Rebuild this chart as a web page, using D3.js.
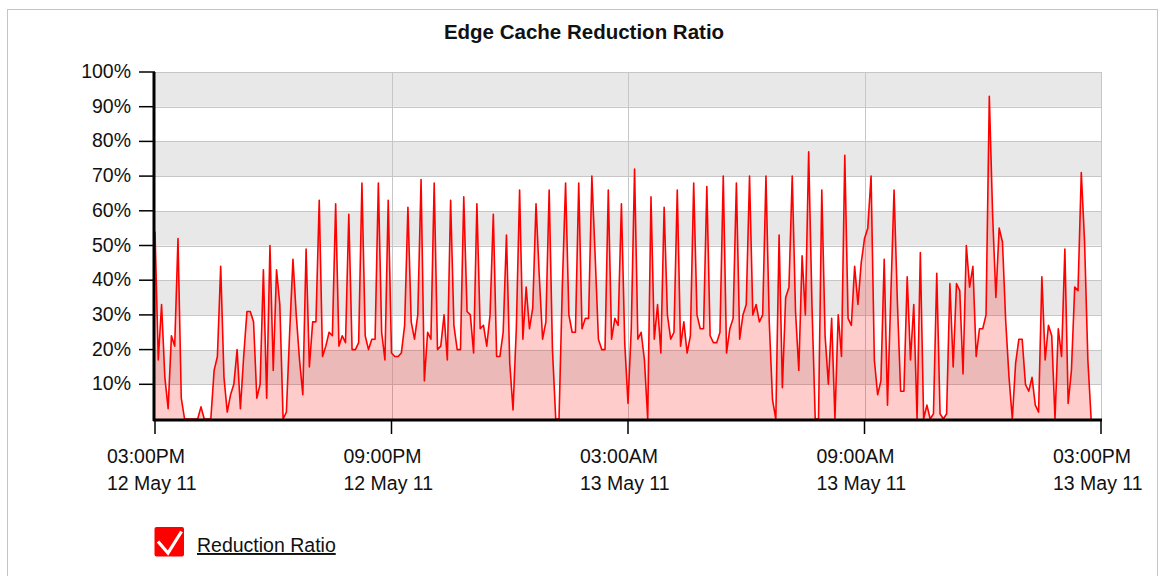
<!DOCTYPE html>
<html lang="en">
<head>
  <meta charset="UTF-8">
  <title>Edge Cache Reduction Ratio</title>
  <script src="https://d3js.org/d3.v7.min.js"></script>
  <style>
    body { margin: 0; background: #fff; }
    text { font-family: "Liberation Sans", Arial, sans-serif; fill: #111; }
  </style>
</head>
<body>
  <div id="chart"></div>

  <script>
    // samples every 5 minutes starting 12 May 11, 03:00PM
    const startTime = new Date(2011, 4, 12, 15, 0);
    const endTime = new Date(2011, 4, 13, 15, 0);
    const stepMinutes = 5;

    // reduction ratio (%)
    const ratio = [
      54, 17, 33, 12, 3, 24, 21, 52, 6, 0,
      0, 0, 0, 0, 3.5, 0, 0, 0, 14, 18,
      44, 12, 2, 7, 10, 20, 3, 18, 31, 31,
      28, 6, 10, 43, 6, 50, 14, 43, 33, 0,
      2, 25, 46, 30, 17, 7, 49, 15, 28, 28,
      63, 18, 21, 25, 24, 62, 21, 24, 22, 59,
      20, 20, 22, 68, 24, 20, 23, 23, 68, 25,
      17, 63, 19, 18, 18, 19, 27, 61, 28, 23,
      30, 69, 11, 25, 23, 68, 20, 21, 30, 17,
      63, 27, 20, 20, 64, 31, 30, 19, 62, 26,
      27, 21, 30, 59, 18, 18, 25, 53, 16, 2.6,
      26, 66, 23, 38, 26, 32, 62, 41, 23, 28,
      66, 20, 0, 0, 38, 68, 30, 25, 25, 68,
      26, 29, 29, 70, 47, 23, 20, 20, 66, 23,
      29, 27, 62, 22, 4.5, 26, 72, 23, 25, 17,
      0, 64, 23, 33, 19, 61, 30, 23, 25, 66,
      21, 28, 19, 24, 68, 30, 26, 26, 67, 24,
      22, 22, 25, 70, 19, 26, 29, 68, 23, 30,
      33, 70, 30, 33, 28, 30, 70, 28, 5.5, 0,
      53, 9, 35, 38, 70, 31, 14, 47, 30, 77,
      33, 0, 0, 66, 24, 10, 29, 0, 30, 18,
      76, 29, 27, 44, 33, 45, 52, 55, 70, 17,
      7, 11, 46, 4, 35, 66, 34, 8, 8, 41,
      17, 33, 0, 48, 0, 4, 0, 1.5, 42, 1.5,
      0, 1.5, 39, 15, 39, 37, 13, 50, 38, 44,
      18, 26, 26, 30, 93, 59, 35, 55, 51, 28,
      12, 0, 16, 23, 23, 10, 8, 12, 4, 2,
      41, 17, 27, 24, 0, 26, 18, 49, 4.5, 14,
      38, 37, 71, 51, 17, 0
    ];

    const yTicks = [10, 20, 30, 40, 50, 60, 70, 80, 90, 100];
    const bandEdges = [0, 10, 20, 30, 40, 50, 60, 70, 80, 90, 100];
    const xTicks = [0, 6, 12, 18, 24].map(h => d3.timeHour.offset(startTime, h));

    const width = 1163;
    const height = 576;
    const margin = { top: 72, right: 62, bottom: 157, left: 155 };

    const series = ratio.map((v, i) => ({
      time: d3.timeMinute.offset(startTime, i * stepMinutes),
      value: v
    }));

    const x = d3.scaleTime()
      .domain([startTime, endTime])
      .range([margin.left, width - margin.right]);

    const y = d3.scaleLinear()
      .domain([0, 100])
      .range([height - margin.bottom, margin.top]);

    const svg = d3.select("#chart").append("svg")
      .attr("width", width)
      .attr("height", height);

    // outer frame
    svg.append("rect")
      .attr("x", 7.5).attr("y", 9.5)
      .attr("width", 1150).attr("height", 620)
      .attr("fill", "none")
      .attr("stroke", "#c4c4c4");

    svg.append("text")
      .attr("x", 584)
      .attr("y", 39)
      .attr("text-anchor", "middle")
      .attr("font-weight", "bold")
      .attr("font-size", "20.5px")
      .text("Edge Cache Reduction Ratio");

    // alternating bands
    svg.append("g")
      .selectAll("rect")
      .data(bandEdges.slice(0, -1))
      .join("rect")
      .attr("x", x.range()[0])
      .attr("width", x.range()[1] - x.range()[0])
      .attr("y", d => y(d + 10))
      .attr("height", d => y(d) - y(d + 10))
      .attr("fill", (d, i) => i % 2 ? "#e8e8e8" : "#ffffff");

    // grid
    const grid = svg.append("g")
      .attr("stroke", "#c6c6c6")
      .attr("stroke-width", 1);

    grid.selectAll(".hg")
      .data(yTicks)
      .join("line")
      .attr("class", "hg")
      .attr("x1", x.range()[0])
      .attr("x2", x.range()[1])
      .attr("y1", d => Math.round(y(d)) + 0.5)
      .attr("y2", d => Math.round(y(d)) + 0.5);

    grid.selectAll(".vg")
      .data(xTicks.slice(1))
      .join("line")
      .attr("class", "vg")
      .attr("x1", d => Math.round(x(d)) + 0.5)
      .attr("x2", d => Math.round(x(d)) + 0.5)
      .attr("y1", y(100))
      .attr("y2", y(0));

    const area = d3.area()
      .x(d => x(d.time))
      .y0(y(0))
      .y1(d => y(d.value));

    const line = d3.line()
      .x(d => x(d.time))
      .y(d => y(d.value));

    svg.append("path")
      .datum(series)
      .attr("d", area)
      .attr("fill", "rgba(255,0,0,0.2)");

    svg.append("path")
      .datum(series)
      .attr("d", line)
      .attr("fill", "none")
      .attr("stroke", "#ff0000")
      .attr("stroke-width", 1.6)
      .attr("stroke-linejoin", "round");

    // y axis
    const yAxis = svg.append("g");
    yAxis.selectAll("line")
      .data(yTicks)
      .join("line")
      .attr("x1", margin.left - 16)
      .attr("x2", margin.left)
      .attr("y1", d => y(d))
      .attr("y2", d => y(d))
      .attr("stroke", "#000")
      .attr("stroke-width", 1.5);
    yAxis.selectAll("text")
      .data(yTicks)
      .join("text")
      .attr("x", margin.left - 24)
      .attr("y", d => y(d) + 6)
      .attr("text-anchor", "end")
      .attr("font-size", "19.5px")
      .text(d => d + "%");
    yAxis.append("line")
      .attr("x1", margin.left - 1)
      .attr("x2", margin.left - 1)
      .attr("y1", y(100))
      .attr("y2", y(0) + 2)
      .attr("stroke", "#000")
      .attr("stroke-width", 3);

    // x axis
    const fmtTime = d3.timeFormat("%I:%M%p");
    const fmtDate = d3.timeFormat("%d %b %y");
    const xAxis = svg.append("g");
    xAxis.append("line")
      .attr("x1", margin.left - 2)
      .attr("x2", x.range()[1] + 1)
      .attr("y1", y(0) + 1)
      .attr("y2", y(0) + 1)
      .attr("stroke", "#000")
      .attr("stroke-width", 3);
    xAxis.selectAll(".tick")
      .data(xTicks)
      .join("line")
      .attr("class", "tick")
      .attr("x1", d => x(d))
      .attr("x2", d => x(d))
      .attr("y1", y(0))
      .attr("y2", y(0) + 15)
      .attr("stroke", "#000")
      .attr("stroke-width", 1.5);
    const lbl = xAxis.selectAll(".lbl")
      .data(xTicks)
      .join("text")
      .attr("class", "lbl")
      .attr("font-size", "19.5px")
      .attr("x", d => x(d) - 48)
      .attr("y", 463);
    lbl.append("tspan").text(d => fmtTime(d));
    lbl.append("tspan")
      .attr("x", d => x(d) - 48)
      .attr("dy", 27)
      .text(d => fmtDate(d));

    // legend
    const legend = svg.append("g");
    legend.append("rect")
      .attr("x", 154.5).attr("y", 527)
      .attr("width", 29.5).attr("height", 29.5)
      .attr("rx", 2)
      .attr("fill", "#ff0000");
    legend.append("path")
      .attr("d", "M158,541.5 L168,553 L181.5,531.5")
      .attr("fill", "none")
      .attr("stroke", "#fff")
      .attr("stroke-width", 3.2);
    legend.append("text")
      .attr("x", 197)
      .attr("y", 552)
      .attr("font-size", "19.5px")
      .attr("text-decoration", "underline")
      .text("Reduction Ratio");
  </script>
</body>
</html>
